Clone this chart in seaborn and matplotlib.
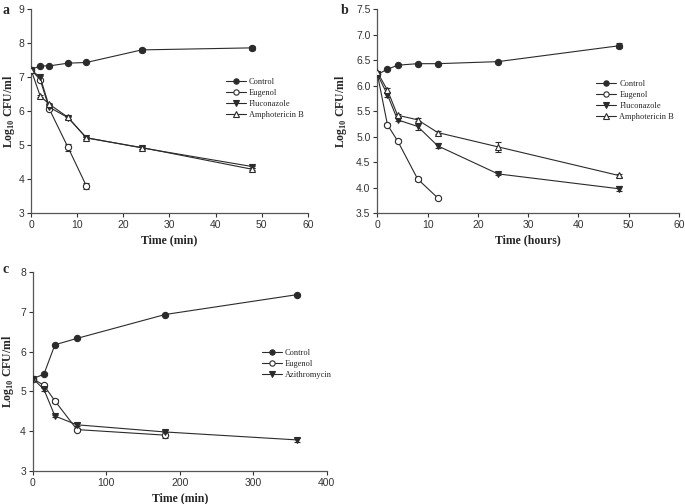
import numpy as np
import pandas as pd
import seaborn as sns
import matplotlib.pyplot as plt

# panel a (min)
time_a = [0, 2, 4, 8, 12, 24, 48]
control_a = [7.22, 7.33, 7.33, 7.41, 7.43, 7.80, 7.86]
control_a_err = [0.02, 0.02, 0.02, 0.02, 0.02, 0.07, 0.05]
eugenol_a = [7.22, 6.92, 6.05, 4.94, 3.80]
eugenol_a_err = [0.02, 0.03, 0.03, 0.10, 0.08]
flucon_a = [7.22, 6.99, 6.11, 5.81, 5.22, 4.92, 4.37]
flucon_a_err = [0.02, 0.04, 0.03, 0.03, 0.03, 0.03, 0.03]
ampho_a = [7.22, 6.44, 6.20, 5.82, 5.21, 4.93, 4.29]
ampho_a_err = [0.02, 0.02, 0.03, 0.04, 0.03, 0.04, 0.03]

# panel b (hours)
time_b = [0, 2, 4, 8, 12, 24, 48]
control_b = [6.22, 6.32, 6.40, 6.43, 6.43, 6.47, 6.78]
control_b_err = [0.02, 0.02, 0.02, 0.02, 0.02, 0.02, 0.05]
eugenol_b = [6.22, 5.23, 4.92, 4.17, 3.80]
eugenol_b_err = [0.03, 0.03, 0.03, 0.03, 0.02]
flucon_b = [6.22, 5.82, 5.33, 5.20, 4.82, 4.27, 3.98]
flucon_b_err = [0.03, 0.05, 0.03, 0.06, 0.05, 0.02, 0.05]
ampho_b = [6.26, 5.91, 5.42, 5.33, 5.08, 4.80, 4.24]
ampho_b_err = [0.03, 0.05, 0.03, 0.03, 0.03, 0.10, 0.03]

# panel c (min)
time_c = [0, 15, 30, 60, 180, 360]
control_c = [5.32, 5.43, 6.17, 6.33, 6.93, 7.43]
control_c_err = [0.02, 0.02, 0.02, 0.02, 0.02, 0.02]
eugenol_c = [5.32, 5.15, 4.76, 4.04, 3.90]
eugenol_c_err = [0.02, 0.04, 0.04, 0.04, 0.08]
azithro_c = [5.32, 5.05, 4.38, 4.16, 3.98, 3.78]
azithro_c_err = [0.02, 0.03, 0.03, 0.04, 0.04, 0.05]

sns.set_style("ticks")
plt.rcParams["mathtext.fontset"] = "custom"
plt.rcParams["mathtext.rm"] = "Liberation Serif"
plt.rcParams["mathtext.bf"] = "Liberation Serif:bold"

LC = "#2b2b2b"
styles = {
    "Control": dict(marker="o", mfc=LC),
    "Eugenol": dict(marker="o", mfc="white"),
    "Fluconazole": dict(marker="v", mfc=LC),
    "Amphotericin B": dict(marker="^", mfc="white"),
    "Azithromycin": dict(marker="v", mfc=LC),
}


def draw(ax, time, series, xlim, xticks, ylim, yticks, yfmt, xlabel, legend_pos, ylab_x):
    for name, (vals, errs) in series.items():
        t = time[:len(vals)]
        df = pd.DataFrame({"time": t, "cfu": vals})
        st = styles[name]
        ax.errorbar(t, vals, yerr=errs, fmt="none", ecolor=LC, elinewidth=0.8,
                    capsize=2.2, capthick=0.8, zorder=2)
        sns.lineplot(data=df, x="time", y="cfu", ax=ax, color=LC, lw=0.8,
                     marker=st["marker"], markersize=4.5, markerfacecolor=st["mfc"],
                     markeredgecolor=LC, markeredgewidth=0.8, label=name, zorder=3)
    ax.set_xlim(*xlim)
    ax.set_ylim(*ylim)
    ax.set_xticks(xticks)
    ax.set_yticks(yticks)
    ax.set_yticklabels([yfmt.format(v) for v in yticks])
    ax.tick_params(labelsize=7.5, length=3, width=0.8, pad=2, colors="#333333")
    for lab in ax.get_xticklabels() + ax.get_yticklabels():
        lab.set_family("Liberation Sans")
    for s in ["left", "bottom"]:
        ax.spines[s].set_linewidth(0.9)
        ax.spines[s].set_color("#555555")
    sns.despine(ax=ax)
    ax.set_xlabel(xlabel, family="Liberation Serif", fontweight="bold", fontsize=8.5,
                  labelpad=3)
    ax.set_ylabel(r"Log$_{\mathbf{10}}$ CFU/ml", family="Liberation Serif",
                  fontweight="bold", fontsize=8.5)
    ax.yaxis.set_label_coords(ylab_x, 0.5)
    leg = ax.legend(loc="upper left", bbox_to_anchor=legend_pos, frameon=False,
                    prop={"family": "Liberation Serif", "size": 6},
                    handlelength=2.4, labelspacing=0.38, borderpad=0,
                    handletextpad=0.35, markerscale=0.85)
    for line in leg.get_lines():
        line.set_linewidth(0.8)


fig = plt.figure(figsize=(6.85, 5.04), dpi=100)
ax_a = fig.add_axes([0.0453, 0.577, 0.404, 0.405])
ax_b = fig.add_axes([0.551, 0.577, 0.440, 0.405])
ax_c = fig.add_axes([0.048, 0.0655, 0.429, 0.395])

draw(ax_a, time_a,
     {"Control": (control_a, control_a_err), "Eugenol": (eugenol_a, eugenol_a_err),
      "Fluconazole": (flucon_a, flucon_a_err), "Amphotericin B": (ampho_a, ampho_a_err)},
     (0, 60), [0, 10, 20, 30, 40, 50, 60], (3, 9), [3, 4, 5, 6, 7, 8, 9], "{:.0f}",
     "Time (min)", (0.69, 0.685), -0.052)
draw(ax_b, time_b,
     {"Control": (control_b, control_b_err), "Eugenol": (eugenol_b, eugenol_b_err),
      "Fluconazole": (flucon_b, flucon_b_err), "Amphotericin B": (ampho_b, ampho_b_err)},
     (0, 60), [0, 10, 20, 30, 40, 50, 60], (3.5, 7.5),
     [3.5, 4.0, 4.5, 5.0, 5.5, 6.0, 6.5, 7.0, 7.5], "{:.1f}",
     "Time (hours)", (0.713, 0.675), -0.095)
draw(ax_c, time_c,
     {"Control": (control_c, control_c_err), "Eugenol": (eugenol_c, eugenol_c_err),
      "Azithromycin": (azithro_c, azithro_c_err)},
     (0, 400), [0, 100, 200, 300, 400], (3, 8), [3, 4, 5, 6, 7, 8], "{:.0f}",
     "Time (min)", (0.765, 0.635), -0.058)

for txt, x, y in [("a", 0.004, 0.98), ("b", 0.497, 0.98), ("c", 0.004, 0.466)]:
    fig.text(x, y, txt, family="Liberation Serif", fontweight="bold", fontsize=10,
             va="center")

fig.savefig("out.png", dpi=100)
